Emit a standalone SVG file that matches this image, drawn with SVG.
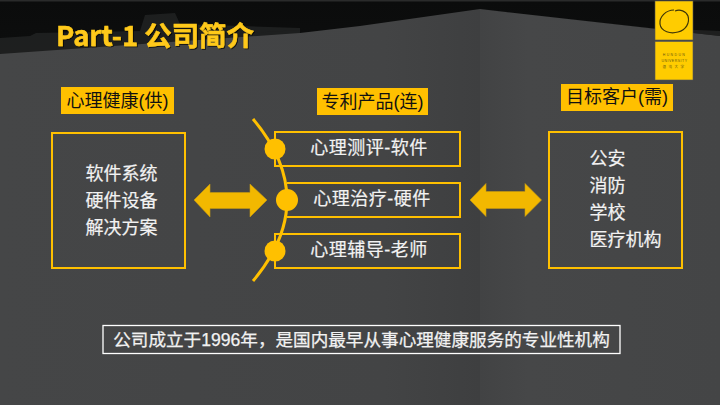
<svg xmlns="http://www.w3.org/2000/svg" width="720" height="405" viewBox="0 0 720 405">
<defs>
<linearGradient id="ceil" x1="0" y1="0" x2="0" y2="1"><stop offset="0" stop-color="#0b0c0c"/><stop offset=".6" stop-color="#141515"/><stop offset="1" stop-color="#232424"/></linearGradient>
<linearGradient id="wl" x1="0" y1="0" x2="1" y2="0"><stop offset="0" stop-color="#454647"/><stop offset=".8" stop-color="#434445"/><stop offset="1" stop-color="#3e3f40"/></linearGradient>
<linearGradient id="wr" x1="0" y1="0" x2="1" y2="0"><stop offset="0" stop-color="#424344"/><stop offset=".2" stop-color="#464748"/><stop offset="1" stop-color="#444546"/></linearGradient>
<filter id="sh" x="-5%" y="-10%" width="110%" height="125%"><feDropShadow dx="1" dy="1" stdDeviation=".7" flood-color="#000" flood-opacity=".7"/></filter>
</defs>
<style>
text{font-family:"Liberation Sans","Noto Sans CJK SC",sans-serif}
.box{fill:none;stroke:#ffc000;stroke-width:2}
.lab{fill:#ffc000}
.lt{font-size:18px;fill:#111;text-anchor:middle}
.wt{font-size:18px;fill:#f2f2f2;stroke:#f2f2f2;stroke-width:.2}
.mid{text-anchor:middle;letter-spacing:.5px}
.arr{fill:#f2b800;stroke:#c79a10;stroke-width:.6}
.dot{fill:#ffc000}
</style>
<rect width="720" height="405" fill="url(#ceil)"/>
<rect width="720" height="1.500" fill="#2a2b2b"/>
<path d="M0 38L30 36L36 33L140 31L145 15L175 13L180 24L300 28V41L0 55Z" fill="#343535" opacity=".45"/>
<path d="M0 38H160L300 30V36L160 46H0Z" fill="#1e1f1f" opacity=".8"/>
<path d="M0 54L300 33L360 26L480 9V405H0Z" fill="url(#wl)"/>
<path d="M480 9L720 36V405H480Z" fill="url(#wr)"/>
<path d="M480 9L650 28L720 31V36Z" fill="#2b2c2c" opacity=".6"/>
<g id="title"><text x="56" y="46" font-size="27.400" font-weight="700" fill="#ffc91a" stroke="#ffc91a" stroke-width=".5" filter="url(#sh)" style="font-family:'Noto Sans CJK SC',sans-serif">Part-1 公司简介</text></g>
<g id="logo">
<rect x="655" y="1" width="38" height="39" fill="#ffcc00" stroke="#555" stroke-width=".6"/>
<path d="M674 10C666 10 659 17 660 24C661 32 671 34 678 32C686 30 690 23 688 16C686 11 680 9 675 11" fill="none" stroke="#3f3608" stroke-width="1.200"/>
<rect x="655" y="41.500" width="38" height="38.500" fill="#ffcc00" stroke="#555" stroke-width=".6"/>
<text x="674.500" y="56" font-size="3.500" fill="#6b5a10" text-anchor="middle" letter-spacing="1.400">HUNDUN</text>
<text x="674.500" y="62" font-size="3.500" fill="#6b5a10" text-anchor="middle" letter-spacing=".5">UNIVERSITY</text>
<text x="674.500" y="68" font-size="3.500" fill="#6b5a10" text-anchor="middle" letter-spacing="2.500">混沌大学</text>
</g>
<g id="connectors">
<path d="M253 119Q321 200 253 281" fill="none" stroke="#ffc000" stroke-width="3"/>
<path class="arr" d="M194 200L210 184V192.500H250V184L267 200L250 217V208.500H210V217Z"/>
<path class="arr" d="M470 200L486 183.500V191.500H525V183.500L541.500 200L525 216.500V208.500H486V216.500Z"/>
</g>
<g id="label-supply"><rect class="lab" x="61" y="87" width="113" height="27"/><text class="lt" x="117.500" y="107">心理健康(供)</text></g>
<g id="label-chain"><rect class="lab" x="317" y="88" width="111" height="27"/><text class="lt" x="372.500" y="108">专利产品(连)</text></g>
<g id="label-demand"><rect class="lab" x="561" y="84" width="112" height="27"/><text class="lt" x="617" y="103">目标客户(需)</text></g>
<g id="node-supply"><rect class="box" x="52" y="133" width="133" height="135"/>
<text class="wt" x="85.500" y="180">软件系统</text><text class="wt" x="85.500" y="207">硬件设备</text><text class="wt" x="85.500" y="234">解决方案</text></g>
<g id="node-test"><rect class="box" x="275" y="132" width="185" height="34"/><circle class="dot" cx="275" cy="149" r="10.500"/><text class="wt mid" x="369" y="154">心理测评-软件</text></g>
<g id="node-therapy"><path class="box" d="M287 183H460V217H287"/><circle class="dot" cx="287" cy="200" r="11"/><text class="wt mid" x="372" y="205">心理治疗-硬件</text></g>
<g id="node-counsel"><rect class="box" x="275" y="234" width="185" height="34"/><circle class="dot" cx="275" cy="251" r="10.500"/><text class="wt mid" x="369" y="256">心理辅导-老师</text></g>
<g id="node-demand"><rect class="box" x="549" y="132" width="133" height="136"/>
<text class="wt" x="589.500" y="165">公安</text><text class="wt" x="589.500" y="192">消防</text><text class="wt" x="589.500" y="219">学校</text><text class="wt" x="589.500" y="246">医疗机构</text></g>
<g id="note"><rect x="103" y="325.500" width="517" height="28" fill="none" stroke="#fff" stroke-width="1.300"/><text x="361.500" y="345.500" font-size="17.600" fill="#f2f2f2" stroke="#f2f2f2" stroke-width=".25" text-anchor="middle">公司成立于1996年，是国内最早从事心理健康服务的专业性机构</text></g>
</svg>
